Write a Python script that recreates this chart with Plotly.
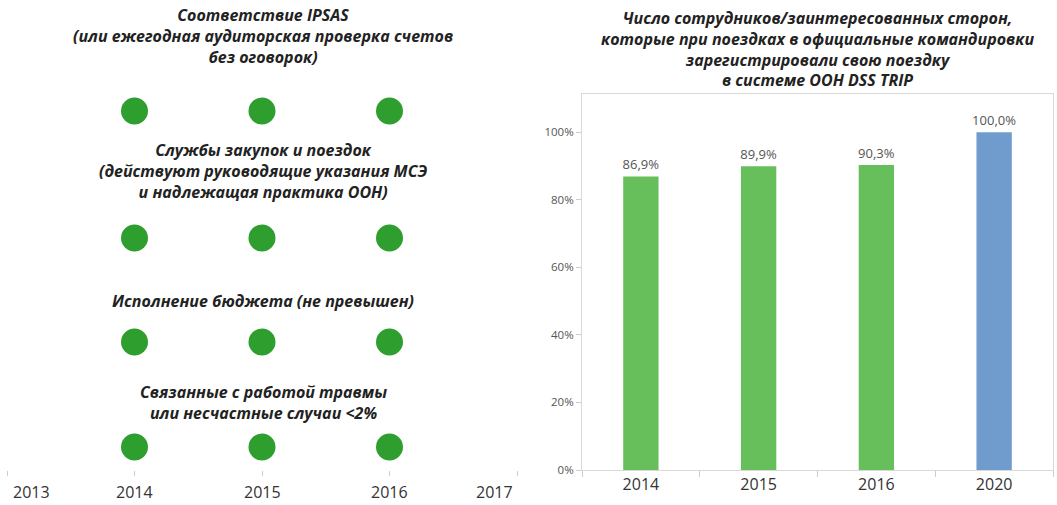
import plotly.graph_objects as go

# Left panel: indicator status per year
dot_years = [2014, 2015, 2016]
axis_years = [2013, 2014, 2015, 2016, 2017]
indicators = [
    ["Соответствие IPSAS",
     "(или ежегодная аудиторская проверка счетов",
     "без оговорок)"],
    ["Службы закупок и поездок",
     "(действуют руководящие указания МСЭ",
     "и надлежащая практика ООН)"],
    ["Исполнение бюджета (не превышен)"],
    ["Связанные с работой травмы",
     "или несчастные случаи <2%"],
]

# Right panel: share of trips registered in UN DSS TRIP
bar_years = ["2014", "2015", "2016", "2020"]
bar_values = [86.9, 89.9, 90.3, 100.0]
bar_colors = ["#66bf5b", "#66bf5b", "#66bf5b", "#6f9ccc"]
y_ticks = [0, 20, 40, 60, 80, 100]
y_tick_text = [f"{v}%" for v in y_ticks]
right_title = ["Число сотрудников/заинтересованных сторон,",
               "которые при поездках в официальные командировки",
               "зарегистрировали свою поездку",
               "в системе ООН DSS TRIP"]

# Layout helpers (paper fractions of the 470px plot height)
H = 470.0
def py(px):
    return (H - px) / H

row_dot_y = [py(111), py(238), py(342), py(447)]
row_title_center = [36, 171, 301, 402]   # pixel centres of each title block

FONT = "Open Sans"
TITLE_FONT = dict(family=FONT, size=16, color="#222222", weight="bold", style="italic")
DOT_GREEN = "#2e9e2e"

fig = go.Figure()

for ry in row_dot_y:
    fig.add_trace(go.Scatter(
        x=dot_years, y=[ry] * len(dot_years),
        mode="markers",
        marker=dict(size=27, color=DOT_GREEN),
        xaxis="x", yaxis="y",
        showlegend=False, hoverinfo="skip",
    ))

fig.add_trace(go.Bar(
    x=bar_years, y=bar_values,
    marker=dict(color=bar_colors, line=dict(width=0)),
    width=0.3,
    texttemplate="%{y:.1f}%",
    textposition="outside",
    constraintext="none",
    textfont=dict(family=FONT, size=13, color="#555555"),
    cliponaxis=False,
    xaxis="x2", yaxis="y2",
    showlegend=False,
))

annotations = []

def add_block(lines, cx, cy):
    annotations.append(dict(
        text="<br>".join(lines), x=cx, y=py(cy), xref="paper", yref="paper",
        xanchor="center", yanchor="middle", showarrow=False,
        font=TITLE_FONT, align="center", borderpad=0,
    ))

for lines, cy in zip(indicators, row_title_center):
    add_block(lines, 263 / 1057, cy)

add_block(right_title, 817.5 / 1057, 49)

for yr in axis_years:
    if yr == axis_years[0]:
        anchor, shift = "left", 4
    elif yr == axis_years[-1]:
        anchor, shift = "right", -2
    else:
        anchor, shift = "center", 0
    annotations.append(dict(
        text=str(yr), x=yr, y=py(492), xref="x", yref="paper",
        xanchor=anchor, yanchor="middle", xshift=shift, showarrow=False,
        font=dict(family=FONT, size=16, color="#333333"),
    ))

fig.update_layout(
    width=1057, height=505,
    margin=dict(l=0, r=0, t=0, b=35),
    paper_bgcolor="white", plot_bgcolor="white",
    separators=", ",
    bargap=0.7,
    xaxis=dict(
        domain=[7 / 1057, 517 / 1057], range=[2013, 2017],
        tickvals=axis_years, showticklabels=False,
        ticks="outside", ticklen=5, tickcolor="#cccccc",
        showline=False, showgrid=False, zeroline=False, fixedrange=True,
    ),
    yaxis=dict(
        domain=[0, 1], range=[0, 1], visible=False, fixedrange=True,
    ),
    xaxis2=dict(
        domain=[582 / 1057, 1053 / 1057], anchor="y2",
        type="category", tickson="boundaries",
        ticks="outside", ticklen=6, tickcolor="#cccccc",
        showline=True, linecolor="#d9d9d9", mirror=True,
        showgrid=False, zeroline=False,
        tickfont=dict(family=FONT, size=16, color="#333333"),
    ),
    yaxis2=dict(
        domain=[0, py(94)], anchor="x2", range=[0, 111.3],
        tickvals=y_ticks, ticktext=y_tick_text,
        ticks="outside", ticklen=5, tickcolor="#cccccc",
        showline=True, linecolor="#d9d9d9", mirror=True,
        showgrid=False, zeroline=False,
        tickfont=dict(family=FONT, size=11.5, color="#555555"),
    ),
    annotations=annotations,
)

fig.write_html("out.html")
